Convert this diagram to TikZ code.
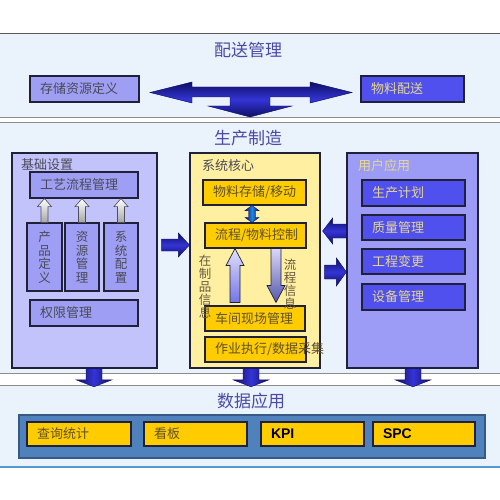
\documentclass[tikz,border=0pt]{standalone}
\usepackage{fontspec}
\setmainfont{Liberation Sans}
\newfontfamily\cjk{Noto Sans CJK SC}
\usetikzlibrary{calc}
\definecolor{bgc}{HTML}{EAF3FC}
\definecolor{lavc}{HTML}{9E9EF4}
\definecolor{lavlc}{HTML}{C3C3FB}
\definecolor{bluc}{HTML}{5050EF}
\definecolor{usrc}{HTML}{9C9CF6}
\definecolor{corec}{HTML}{FFEFA0}
\definecolor{goldc}{HTML}{FFCC00}
\definecolor{datac}{HTML}{4F81BD}
\definecolor{txtyel}{HTML}{E6D88C}
\definecolor{txtdark}{HTML}{4A4A58}
\definecolor{txtbrown}{HTML}{5E5030}
\definecolor{titc}{HTML}{4A4AA6}
\definecolor{bordc}{HTML}{202038}
\definecolor{navyd}{HTML}{0E0E64}
\definecolor{navyl}{HTML}{3434D6}
\definecolor{sepc}{HTML}{8C8C8C}
% vertical block arrow: style, from, to, shaft half, head half, head length
\newcommand\varrow[6]{%
\path[#1] let \p1=(#2), \p2=(#3), \n1={sign(\y2-\y1)} in
 ({\x1-#4},\y1) -- ({\x1-#4},{\y2-(\n1)*#6}) -- ({\x1-#5},{\y2-(\n1)*#6}) -- (\x1,\y2)
 -- ({\x1+#5},{\y2-(\n1)*#6}) -- ({\x1+#4},{\y2-(\n1)*#6}) -- ({\x1+#4},\y1) -- cycle;}
% horizontal block arrow
\newcommand\harrow[6]{%
\path[#1] let \p1=(#2), \p2=(#3), \n1={sign(\x2-\x1)} in
 (\x1,{\y1-#4}) -- ({\x2-(\n1)*#6},{\y1-#4}) -- ({\x2-(\n1)*#6},{\y1-#5}) -- (\x2,\y1)
 -- ({\x2-(\n1)*#6},{\y1+#5}) -- ({\x2-(\n1)*#6},{\y1+#4}) -- (\x1,{\y1+#4}) -- cycle;}
\tikzset{
 secbg/.style={fill=bgc, draw=none, minimum width=500pt, inner sep=0pt},
 sepline/.style={draw=sepc, line width=1pt},
 titlebig/.style={font=\cjk\fontsize{17}{20}\selectfont, text=titc},
 boxbase/.style={draw=bordc, line width=1.1pt, inner ysep=0pt, inner xsep=10pt, align=left,
   font=\cjk\fontsize{13}{15}\selectfont},
 lav/.style={boxbase, fill=lavc, text=txtdark},
 blu/.style={boxbase, fill=bluc, text=txtyel},
 gold/.style={boxbase, fill=goldc, text=txtbrown},
 goldlat/.style={boxbase, fill=goldc, text=black, font=\fontsize{14}{16}\selectfont\bfseries},
 vbox/.style={draw=bordc, line width=1.1pt, fill=lavc, text=txtdark, inner sep=0pt,
   minimum height=68pt, align=center, font=\cjk\fontsize{12.5}{13.5}\selectfont},
 outer/.style={draw=bordc, line width=1.2pt, inner sep=0pt},
 subtitle/.style={anchor=west, inner sep=1pt, font=\cjk\fontsize{13}{15}\selectfont},
 vtext/.style={inner sep=0pt, align=center, text=txtbrown!80!gray, font=\cjk\fontsize{12.5}{13}\selectfont},
 navyh/.style={top color=navyd, bottom color=navyd, middle color=navyl, draw=navyd, line width=0.4pt},
 navyv/.style={left color=navyd, right color=navyd, middle color=navyl, draw=navyd, line width=0.4pt},
 hollow/.style={top color=white, bottom color=gray!70, draw=bordc!80, line width=0.6pt},
 purp/.style={top color=white!70!lavc, bottom color=lavc!60!navyl, draw=bordc, line width=0.7pt},
 purpd/.style={top color=white!60!lavc, bottom color=lavc!50!navyd, draw=bordc, line width=0.7pt}
}
\begin{document}
\begin{tikzpicture}[x=1pt,y=-1pt]
\useasboundingbox (0,0) rectangle (500,500);
\fill[white] (0,0) rectangle (500,500);
% sections
\node[secbg, minimum height=83pt] (sec1) at (250,75.5) {};
\node[secbg, minimum height=250pt] (sec2) at (250,248) {};
\node[secbg, minimum height=81pt] (sec3) at (250,426.5) {};
\draw[draw=black!65, line width=1.1pt] (sec1.north west) -- (sec1.north east);
\draw[sepline] (sec1.south west) -- (sec1.south east);
\draw[sepline] (sec2.north west) -- (sec2.north east);
\draw[sepline] (sec2.south west) -- (sec2.south east);
\draw[sepline] (sec3.north west) -- (sec3.north east);
\draw[draw=cyan!60!blue!70, line width=1.5pt] (sec3.south west) -- (sec3.south east);
% titles
\node[titlebig] (t1) at (248,50) {配送管理};
\node[titlebig] (t2) at (248,138) {生产制造};
\node[titlebig] (t3) at (251,401) {数据应用};
% section 1
\node[lav, minimum height=26pt, text width=89pt] (cc) at (84.5,89) {存储资源定义};
\node[blu, minimum height=26pt, text width=83pt] (wl) at (412.5,89) {物料配送};
\path[top color=navyd, bottom color=navyd, middle color=navyl, draw=navyd, line width=0.4pt]
 (150,92.5) -- (192,82) -- (192,87) -- (310,87) -- (310,82) -- (352,92.5) -- (310,103)
 -- (310,97) -- (270,97) -- (270,106) -- (292,106) -- (250,117) -- (208,106) -- (230,106)
 -- (230,97) -- (192,97) -- (192,103) -- cycle;
% left column
\node[outer, fill=lavlc, minimum width=145pt, minimum height=215pt] (jc) at (84.5,260.5) {};
\node[subtitle, text=txtdark] (jct) at (20,165) {基础设置};
\node[lav, minimum height=26pt, text width=88pt] (gy) at (84,185) {工艺流程管理};
\node[vbox, minimum width=35pt] (cp) at (44.5,257) {产\\品\\定\\义};
\node[vbox, minimum width=34pt] (zy) at (82,257) {资\\源\\管\\理};
\node[vbox, minimum width=34pt] (xt) at (121,257) {系\\统\\配\\置};
\node[lav, minimum height=26pt, text width=88pt] (qx) at (84,313) {权限管理};
\varrow{hollow}{cp.north}{gy.south}{3.5pt}{7pt}{8pt}
\varrow{hollow}{zy.north}{gy.south}{3.5pt}{7pt}{8pt}
\varrow{hollow}{xt.north}{gy.south}{3.5pt}{7pt}{8pt}
% middle column
\node[outer, fill=corec, minimum width=130pt, minimum height=215pt] (core) at (255,260.5) {};
\node[subtitle, text=txtdark] (coret) at (201,166) {系统核心};
\node[gold, minimum height=25pt, text width=83pt] (wc) at (254.5,192.5) {物料存储/移动};
\node[gold, minimum height=25pt, text width=81pt] (lc) at (255.5,235.5) {流程/物料控制};
\node[gold, minimum height=25pt, text width=80pt] (cj) at (255,318.5) {车间现场管理};
\node[gold, minimum height=25pt, text width=81pt] (zx) at (255.5,349.5) {\rlap{作业执行/数据采集}};
\coordinate (dd) at (252,0);
\path[left color=navyd, right color=navyd, middle color=navyl!60!cyan, draw=navyd, line width=0.4pt]
 let \p1=(wc.south -| dd), \p2=(lc.north -| dd) in
 (\x1,\y1) -- ({\x1+7pt},{\y1-5pt}) -- ({\x1+3.5pt},{\y1-5pt}) -- ({\x1+3.5pt},{\y2+5pt}) -- ({\x1+7pt},{\y2+5pt})
 -- (\x1,\y2) -- ({\x1-7pt},{\y2+5pt}) -- ({\x1-3.5pt},{\y2+5pt}) -- ({\x1-3.5pt},{\y1-5pt}) -- ({\x1-7pt},{\y1-5pt}) -- cycle;
\coordinate (ua) at (235,0);
\coordinate (da) at (276,0);
\varrow{purp}{$(cj.north -| ua)+(0,-3)$}{lc.south -| ua}{5pt}{9pt}{17pt}
\varrow{purpd}{lc.south -| da}{$(cj.north -| da)+(0,-3)$}{5pt}{9pt}{17pt}
\node[vtext] (zzp) at (205,287) {在\\制\\品\\信\\息};
\node[vtext] (lcx) at (290,284) {流\\程\\信\\息};
% right column
\node[outer, fill=usrc, minimum width=131pt, minimum height=215pt] (user) at (412.5,260.5) {};
\node[subtitle, text=txtyel] (usert) at (357,166) {用户应用};
\node[blu, minimum height=26pt, text width=83pt] (sc) at (413.5,193) {生产计划};
\node[blu, minimum height=25pt, text width=83pt] (zl) at (413.5,227.5) {质量管理};
\node[blu, minimum height=25pt, text width=83pt] (gc) at (413.5,261.5) {工程变更};
\node[blu, minimum height=26pt, text width=83pt] (sb) at (413.5,297) {设备管理};
% horizontal arrows between columns
\coordinate (ha) at (0,245);
\coordinate (hb) at (0,231);
\coordinate (hc) at (0,272);
\harrow{navyh}{$(jc.east |- ha)+(4,0)$}{core.west}{6pt}{12pt}{11pt}
\harrow{navyh}{user.west |- hb}{$(core.east)+(2,0)$}{7pt}{13pt}{10pt}
\harrow{navyh}{$(core.east |- hc)+(4,0)$}{user.west}{7pt}{14pt}{10pt}
% down arrows to data section
\coordinate (d1) at (94,0);
\coordinate (d2) at (251,0);
\coordinate (d3) at (413,0);
\varrow{navyv}{jc.south -| d1}{$(sec3.north -| d1)+(0,1)$}{8pt}{18pt}{7pt}
\varrow{navyv}{core.south -| d2}{$(sec3.north -| d2)+(0,1)$}{8pt}{18pt}{7pt}
\varrow{navyv}{user.south -| d3}{$(sec3.north -| d3)+(0,1)$}{8pt}{18pt}{7pt}
% data section
\node[outer, draw=datac!70!black, fill=datac, minimum width=466pt, minimum height=43pt] (data) at (252,436.5) {};
\node[gold, minimum height=24pt, text width=84pt] (cx) at (79,434) {查询统计};
\node[gold, minimum height=24pt, text width=83pt] (kb) at (195.5,434) {看板};
\node[goldlat, minimum height=24pt, text width=83pt] (kpi) at (312.5,434) {KPI};
\node[goldlat, minimum height=24pt, text width=82pt] (spc) at (424,434) {SPC};
\end{tikzpicture}
\end{document}
